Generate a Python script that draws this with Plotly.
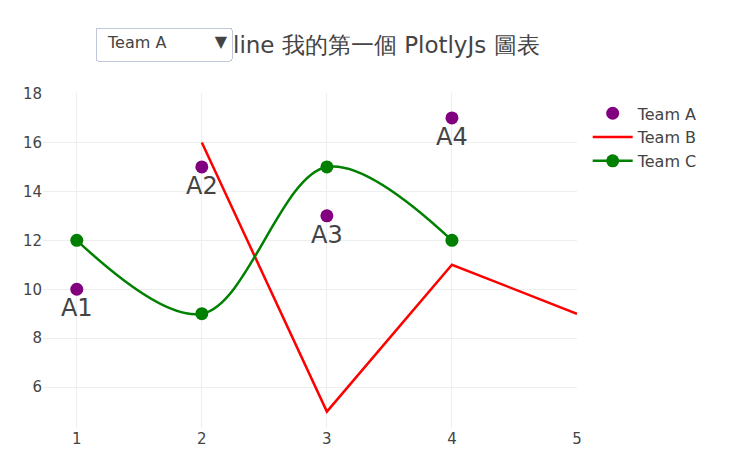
import plotly.graph_objects as go

x_a = [1, 2, 3, 4]
y_a = [10, 15, 13, 17]
text_a = ["A1", "A2", "A3", "A4"]

x_b = [2, 3, 4, 5]
y_b = [16, 5, 11, 9]

x_c = [1, 2, 3, 4]
y_c = [12, 9, 15, 12]

team_names = ["Team A", "Team B", "Team C"]

fig = go.Figure()
fig.add_trace(go.Scatter(x=x_a, y=y_a, mode="markers+text", name=team_names[0],
                         text=text_a, textposition="bottom center",
                         textfont=dict(size=24),
                         marker=dict(color="purple", size=13)))
fig.add_trace(go.Scatter(x=x_b, y=y_b, mode="lines", name=team_names[1],
                         line=dict(color="red", width=2.5)))
fig.add_trace(go.Scatter(x=x_c, y=y_c, mode="lines+markers", name=team_names[2],
                         line=dict(color="green", width=2.5, shape="spline"),
                         marker=dict(color="green", size=13)))

pad = "\u00a0" * 7
buttons = [
    dict(label=name + pad, method="restyle", args=[{"visible": [True, True, True]}])
    for name in team_names
]

fig.update_layout(
    width=735, height=476,
    font=dict(family="DejaVu Sans, Verdana, sans-serif", size=15, color="#444"),
    title=dict(text="line 我的第一個 PlotlyJs 圖表", x=(233 - 43) / 534, xref="paper",
               xanchor="left", y=1 - 45 / 476, yanchor="middle",
               font=dict(size=23)),
    margin=dict(l=43, r=158, t=93, b=48),
    plot_bgcolor="white", paper_bgcolor="white",
    xaxis=dict(range=[0.73, 5], tickvals=[1, 2, 3, 4, 5], showgrid=True,
               gridcolor="#eee", zeroline=False, showline=False),
    yaxis=dict(range=[4.33, 18.02], dtick=2, showgrid=True, gridcolor="#eee",
               zeroline=False, showline=False),
    legend=dict(font=dict(size=16), itemwidth=40, y=0.99),
    updatemenus=[dict(type="dropdown", buttons=buttons, active=0,
                      x=(95 - 43) / 534, xanchor="left",
                      y=(428 - 27) / 335, yanchor="top",
                      font=dict(size=16))],
)

fig.write_html("out.html")
